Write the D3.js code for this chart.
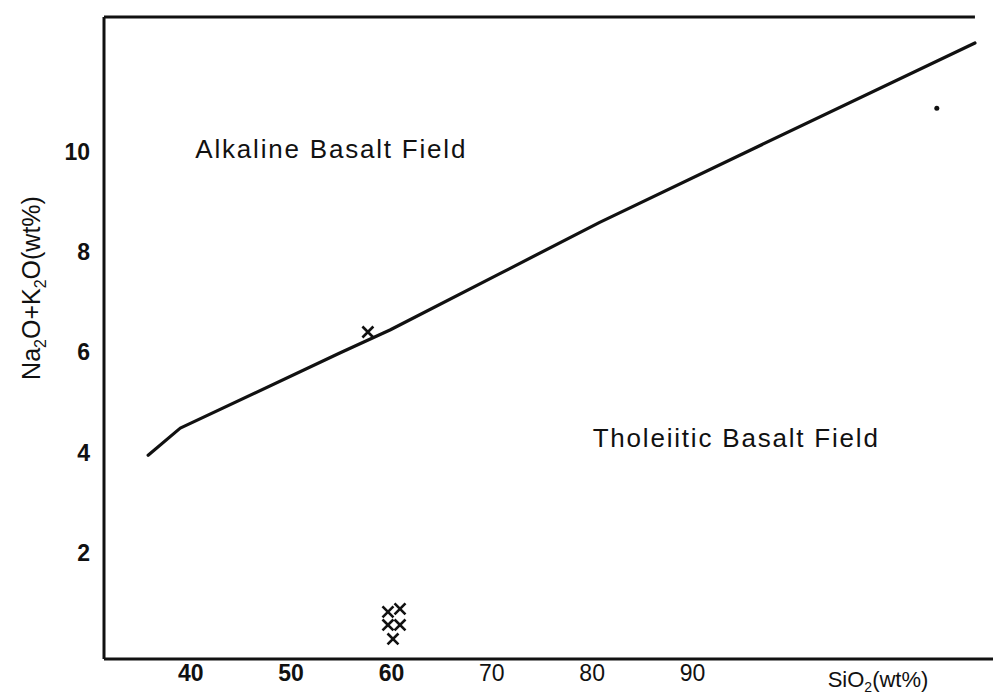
<!DOCTYPE html>
<html>
<head>
<meta charset="utf-8">
<script src="https://cdn.jsdelivr.net/npm/d3@7"></script>
<style>
  body { margin: 0; background: #fff; }
  text { font-family: "Liberation Sans", Arial, sans-serif; fill: #111; }
</style>
</head>
<body>
<div id="chart"></div>
<script>
// boundary line between alkaline and tholeiitic basalt fields
var lineSiO2 = [35.8, 39.0, 54.9, 59.9, 70.9, 80.8, 95.8, 118.2];
var lineAlk = [3.95, 4.49, 5.99, 6.45, 7.58, 8.60, 10.04, 12.18];

// sample points (x markers)
var sampleSiO2 = [57.7, 59.7, 60.9, 59.7, 60.9, 60.2];
var sampleAlk = [6.41, 0.82, 0.88, 0.56, 0.56, 0.28];

// stray dot near top right
var dotSiO2 = [114.4];
var dotAlk = [10.88];

var xTicks = [40, 50, 60, 70, 80, 90];
var yTicks = [2, 4, 6, 8, 10];
var boldXTicks = [40, 50, 60];

var svgWidth = 993;
var svgHeight = 695;

var svg = d3.select("#chart")
  .append("svg")
  .attr("width", svgWidth)
  .attr("height", svgHeight);

var xScale = d3.scaleLinear()
  .domain([31.4, 120])
  .range([104, 993]);

var yScale = d3.scaleLinear()
  .domain([-0.12, 12.7])
  .range([659, 17]);

// frame: left, bottom, top
var frame = svg.append("g")
  .attr("stroke", "#111")
  .attr("stroke-width", 3)
  .attr("fill", "none");

frame.append("line")
  .attr("x1", xScale(31.4)).attr("x2", xScale(31.4))
  .attr("y1", yScale(12.7)).attr("y2", yScale(-0.12));

frame.append("line")
  .attr("x1", xScale(31.4)).attr("x2", xScale(120))
  .attr("y1", yScale(-0.12)).attr("y2", yScale(-0.12));

frame.append("line")
  .attr("x1", xScale(31.4)).attr("x2", xScale(118.2))
  .attr("y1", yScale(12.7)).attr("y2", yScale(12.7));

// axes without tick marks
var bottomAxis = d3.axisBottom(xScale)
  .tickValues(xTicks)
  .tickSize(0)
  .tickPadding(6);

var leftAxis = d3.axisLeft(yScale)
  .tickValues(yTicks)
  .tickSize(0)
  .tickPadding(14);

var xAxis = svg.append("g")
  .attr("transform", `translate(0, ${yScale(-0.12)})`)
  .call(bottomAxis);

xAxis.select(".domain").remove();
xAxis.selectAll("text")
  .style("font-size", "23px")
  .style("font-weight", d => boldXTicks.indexOf(d) >= 0 ? "bold" : "normal")
  .attr("fill", "#111");

var yAxis = svg.append("g")
  .attr("transform", `translate(${xScale(31.4)}, 0)`)
  .call(leftAxis);

yAxis.select(".domain").remove();
yAxis.selectAll("text")
  .style("font-size", "23px")
  .style("font-weight", "bold")
  .attr("fill", "#111");

// boundary line
var lineData = lineSiO2.map((d, i) => [d, lineAlk[i]]);

svg.append("path")
  .datum(lineData)
  .attr("fill", "none")
  .attr("stroke", "#111")
  .attr("stroke-width", 3.2)
  .attr("stroke-linejoin", "round")
  .attr("stroke-linecap", "round")
  .attr("d", d3.line()
    .x(d => xScale(d[0]))
    .y(d => yScale(d[1])));

// sample markers
var sampleData = sampleSiO2.map((d, i) => [d, sampleAlk[i]]);
var crossSymbol = d3.symbol().type(d3.symbolTimes || d3.symbolCross).size(80);

svg.selectAll(".sample")
  .data(sampleData)
  .enter()
  .append("path")
  .attr("class", "sample")
  .attr("transform", d => `translate(${xScale(d[0])}, ${yScale(d[1])})`)
  .attr("d", crossSymbol)
  .attr("fill", "none")
  .attr("stroke", "#111")
  .attr("stroke-width", 2.6);

svg.selectAll(".dot")
  .data(dotSiO2.map((d, i) => [d, dotAlk[i]]))
  .enter()
  .append("circle")
  .attr("class", "dot")
  .attr("cx", d => xScale(d[0]))
  .attr("cy", d => yScale(d[1]))
  .attr("r", 2.5)
  .attr("fill", "#111");

// field labels
svg.append("text")
  .attr("x", xScale(40.5))
  .attr("y", yScale(9.88))
  .style("font-size", "26px")
  .style("letter-spacing", "1.8px")
  .text("Alkaline Basalt Field");

svg.append("text")
  .attr("x", xScale(80.1))
  .attr("y", yScale(4.11))
  .style("font-size", "26px")
  .style("letter-spacing", "1.8px")
  .text("Tholeiitic Basalt Field");

// axis titles
var xTitle = svg.append("text")
  .attr("x", 878)
  .attr("y", 687)
  .attr("text-anchor", "middle")
  .style("font-size", "22px");
xTitle.append("tspan").text("SiO");
xTitle.append("tspan").attr("dy", 5).style("font-size", "14px").text("2");
xTitle.append("tspan").attr("dy", -5).text("(wt%)");

var yTitle = svg.append("text")
  .attr("transform", "translate(40, 288) rotate(-90)")
  .attr("text-anchor", "middle")
  .style("font-size", "25px");
yTitle.append("tspan").text("Na");
yTitle.append("tspan").attr("dy", 6).style("font-size", "16px").text("2");
yTitle.append("tspan").attr("dy", -6).text("O+K");
yTitle.append("tspan").attr("dy", 6).style("font-size", "16px").text("2");
yTitle.append("tspan").attr("dy", -6).text("O(wt%)");
</script>
</body>
</html>
